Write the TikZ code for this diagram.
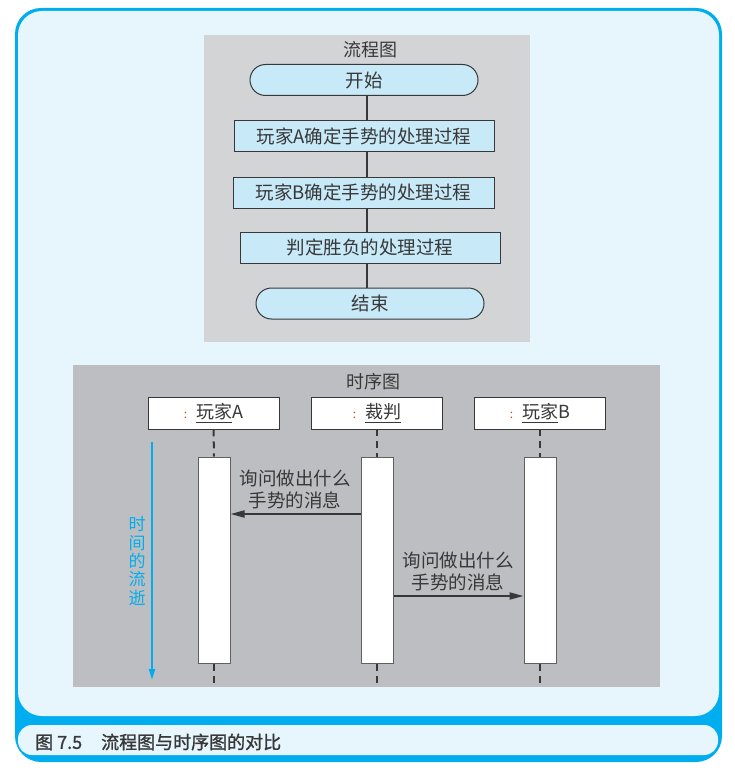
\documentclass[tikz,border=0pt]{standalone}
\usepackage{fontspec}
\setmainfont{Noto Sans CJK SC}
\newfontfamily\capfont{Noto Sans CJK SC}[FakeBold=1.2]
\usetikzlibrary{shapes.misc,arrows.meta}
\definecolor{framecyan}{HTML}{00AEEF}
\definecolor{panelblue}{HTML}{E7F6FD}
\definecolor{flowgray}{HTML}{D3D4D6}
\definecolor{seqgray}{HTML}{BDBEC1}
\definecolor{boxblue}{HTML}{C8E9F8}
\definecolor{inkgray}{HTML}{383838}
\definecolor{colonred}{HTML}{E8401C}
\tikzset{
  flowbox/.style={draw=inkgray, line width=1pt, fill=boxblue, minimum width=260pt,
    minimum height=31pt, inner sep=0pt, text=inkgray, font=\fontsize{18.5}{20}\selectfont},
  flowend/.style={flowbox, rounded rectangle, minimum width=228pt},
  heading/.style={text=inkgray, inner sep=0pt, font=\fontsize{18}{20}\selectfont},
  partbox/.style={draw=inkgray, line width=0.8pt, fill=white, minimum width=131pt,
    minimum height=32pt, inner sep=0pt, text=inkgray, font=\fontsize{18}{20}\selectfont},
  actbox/.style={draw=inkgray!80, line width=1pt, fill=white, minimum width=32pt,
    minimum height=206pt, inner sep=0pt},
  lifeline/.style={draw=inkgray, line width=2pt, dash pattern=on 7pt off 5pt},
  msg/.style={draw=inkgray, line width=2pt, -{Triangle[length=14pt,width=7pt]}},
  msglabel/.style={align=center, text=inkgray, inner sep=0pt, font=\fontsize{18.5}{22}\selectfont},
}
\newcommand{\colonmark}{{\color{colonred}\fontsize{12}{12}\selectfont:}\hspace{9pt}}
\begin{document}
\begin{tikzpicture}[x=1pt,y=-1pt]
\useasboundingbox (0,0) rectangle (734,770);
% frame
\fill[framecyan, rounded corners=26pt] (15,8) rectangle (722,762);
\fill[panelblue, rounded corners=24pt] (18,11) rectangle (719,716);
\fill[panelblue, rounded corners=14pt] (18,725) rectangle (718,755);
\node[anchor=west, text=inkgray, inner sep=0pt, font=\capfont\fontsize{18}{18}\selectfont] (caption) at (35,742) {图\hspace{4pt}7.5\hspace{19pt}流程图与时序图的对比};
% flow chart
\fill[flowgray] (204,35) rectangle (530,342);
\node[heading] (flowtitle) at (370,50) {流程图};
\coordinate (flowaxis) at (367,0);
\node[flowend] (fstart) at (364,80) {开始};
\node[flowbox] (fa) at (364,136.5) {玩家A确定手势的处理过程};
\node[flowbox, minimum width=261pt] (fb) at (363.5,192.5) {玩家B确定手势的处理过程};
\node[flowbox] (fjudge) at (370,247.5) {判定胜负的处理过程};
\node[flowend] (fend) at (370,303.5) {结束};
\draw[inkgray, line width=2pt] (fstart.south -| flowaxis) -- (fa.north -| flowaxis);
\draw[inkgray, line width=2pt] (fa.south -| flowaxis) -- (fb.north -| flowaxis);
\draw[inkgray, line width=2pt] (fb.south -| flowaxis) -- (fjudge.north -| flowaxis);
\draw[inkgray, line width=2pt] (fjudge.south -| flowaxis) -- (fend.north -| flowaxis);
% sequence chart
\fill[seqgray] (73,365) rectangle (660,687);
\node[heading] (seqtitle) at (373,382) {时序图};
\node[partbox] (pa) at (213.5,413) {\colonmark\underline{玩家}A};
\node[partbox] (pref) at (377,413) {\colonmark\underline{裁判}};
\node[partbox] (pb) at (540,413) {\colonmark\underline{玩家}B};
\node[actbox] (acta) at (214,560) {};
\node[actbox] (actref) at (377,560) {};
\node[actbox] (actb) at (540,560) {};
\coordinate (lifeend) at (0,683);
\draw[lifeline] (pa.south) -- (acta.north);
\draw[lifeline] (pref.south) -- (actref.north);
\draw[lifeline] (pb.south) -- (actb.north);
\draw[lifeline] (acta.south) -- (acta.south |- lifeend);
\draw[lifeline] (actref.south) -- (actref.south |- lifeend);
\draw[lifeline] (actb.south) -- (actb.south |- lifeend);
\coordinate (m1) at (0,514);
\coordinate (m2) at (0,596);
\draw[msg] (actref.west |- m1) -- (acta.east |- m1);
\draw[msg] (actref.east |- m2) -- (actb.west |- m2);
\node[msglabel] (ask1) at (295,489) {询问做出什么\\手势的消息};
\node[msglabel] (ask2) at (458,571) {询问做出什么\\手势的消息};
% time
\coordinate (ttop) at (152,442);
\coordinate (tbottom) at (152,680);
\draw[framecyan, line width=2pt, -{Triangle[length=11pt,width=6pt]}] (ttop) -- (tbottom);
\node[align=center, text=framecyan, inner sep=0pt, font=\fontsize{17}{18.3}\selectfont] (tflow) at (137,561) {时\\间\\的\\流\\逝};
\end{tikzpicture}
\end{document}
